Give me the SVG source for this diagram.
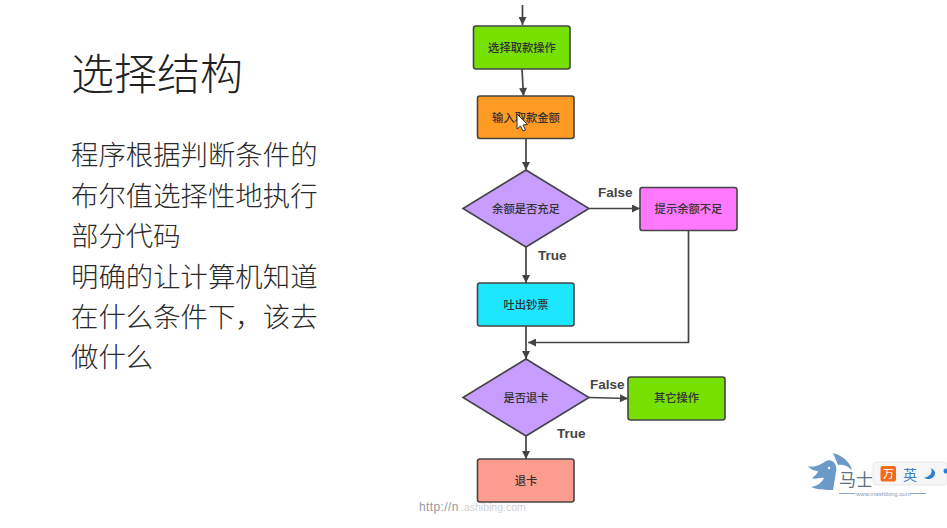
<svg xmlns="http://www.w3.org/2000/svg" width="947" height="528" viewBox="0 0 947 528">
<style>
.cjk{font-family:"Noto Sans CJK SC","Noto Sans",sans-serif}
.head{font-size:43px;font-weight:300;fill:#222}
.body{font-size:27.4px;font-weight:300;fill:#2a2a2a}
.box{stroke:#444;stroke-width:1.6}
.lab{font-size:11.300px;text-anchor:middle;fill:#333;font-weight:500}
.tf{font-family:"Liberation Sans",Arial,sans-serif;font-size:13.500px;font-weight:bold;fill:#444}
.con{fill:none;stroke:#444;stroke-width:1.7}
</style>
<defs>
<marker id="arr" viewBox="0 0 10 10" refX="10" refY="5" markerWidth="10" markerHeight="8" markerUnits="userSpaceOnUse" orient="auto"><path d="M0 0L10 5L0 10Z" fill="#444"/></marker>
</defs>
<rect width="947" height="528" fill="#fff"/>
<text class="cjk head" x="71" y="90">选择结构</text>
<g class="cjk body">
<text x="71" y="165">程序根据判断条件的</text>
<text x="71" y="206">布尔值选择性地执行</text>
<text x="71" y="246">部分代码</text>
<text x="71" y="287">明确的让计算机知道</text>
<text x="71" y="327">在什么条件下，该去</text>
<text x="71" y="367">做什么</text>
</g>
<g id="connectors">
<path class="con" marker-end="url(#arr)" d="M522.500 5V25"/>
<path class="con" marker-end="url(#arr)" d="M522 69L523.500 96"/>
<path class="con" marker-end="url(#arr)" d="M526 138V170"/>
<path class="con" marker-end="url(#arr)" d="M589 208.500H640"/>
<path class="con" marker-end="url(#arr)" d="M526 247V283"/>
<path class="con" marker-end="url(#arr)" d="M688.500 230V342.500H528"/>
<path class="con" marker-end="url(#arr)" d="M526 326V359"/>
<path class="con" marker-end="url(#arr)" d="M589 397.500L628 398.500"/>
<path class="con" marker-end="url(#arr)" d="M526 436V459"/>
</g>
<g id="n1"><rect class="box" x="473.500" y="26" width="96.500" height="43" rx="2.500" fill="#76e000"/><text class="cjk lab" x="522" y="51.500">选择取款操作</text></g>
<g id="n2"><rect class="box" x="477.500" y="96" width="96.500" height="42.500" rx="2.500" fill="#ff9a22"/><text class="cjk lab" x="526" y="121.500">输入取款金额</text></g>
<g id="n3"><path class="box" d="M526 170L589 208.500L526 247L463 208.500Z" fill="#c79dff"/><text class="cjk lab" x="526" y="213">余额是否充足</text></g>
<g id="n4"><rect class="box" x="640" y="187.500" width="97" height="43" rx="2.500" fill="#ff79ff"/><text class="cjk lab" x="688.500" y="212.500">提示余额不足</text></g>
<g id="n5"><rect class="box" x="477.500" y="283" width="96.500" height="43" rx="2.500" fill="#1ce7ff"/><text class="cjk lab" x="526" y="308.500">吐出钞票</text></g>
<g id="n6"><path class="box" d="M526 359L589 397.500L526 436L463 397.500Z" fill="#c79dff"/><text class="cjk lab" x="526" y="402">是否退卡</text></g>
<g id="n7"><rect class="box" x="628" y="377" width="97" height="43" rx="2.500" fill="#76e000"/><text class="cjk lab" x="676.500" y="402">其它操作</text></g>
<g id="n8"><rect class="box" x="477.500" y="459" width="96.500" height="43" rx="2.500" fill="#ff9c90"/><text class="cjk lab" x="526" y="485">退卡</text></g>
<text class="tf" x="598" y="197">False</text>
<text class="tf" x="538" y="260">True</text>
<text class="tf" x="590" y="389">False</text>
<text class="tf" x="557" y="438">True</text>
<path d="M517 114V129L520.500 126L523 131L525.500 130L523 125L527.500 124.500Z" fill="#fff" stroke="#333" stroke-width="1"/>
<text x="419" y="511" font-family="Liberation Sans,Arial,sans-serif" font-size="12" fill="#999" letter-spacing=".4">http://n</text>
<text x="461" y="511" font-family="Liberation Sans,Arial,sans-serif" font-size="10.500" fill="#d0d0d0">.ashibing.com</text>
<path d="M833 453C842 455 850 462 852 470C847 465 842 464 838 465Z" fill="#6b9ac9"/>
<path d="M826 461C832 458 838 464 836 472L833 490C826 490 818 490 811 487C818 486 822 482 824 478C820 477 815 480 812 478C815 476 818 473 818 471C815 471 811 470 808 466C814 468 820 465 826 461Z" fill="#6b9ac9"/>
<circle cx="829" cy="468" r="1.200" fill="#fff"/>
<text class="cjk" x="839" y="485.500" font-size="17" fill="#5c6f85">马士</text>
<path d="M839 493.500H855M910 493.500H926" stroke="#8fa9c8" stroke-width="1"/>
<text x="856" y="495.500" font-family="Liberation Sans,Arial,sans-serif" font-size="6" fill="#7f9cbc">www.mashibing.com</text>
<rect x="873" y="462" width="74" height="23" rx="4" fill="#f6f6f6" stroke="#e8e8e8"/>
<rect x="880.500" y="466" width="15.500" height="15.500" rx="2" fill="#f36a1c"/>
<text class="cjk" x="883" y="478" font-size="11" fill="#fff">万</text>
<text class="cjk" x="903" y="479.500" font-size="14" fill="#3b7fc4">英</text>
<path d="M931 468C933 473 930 477 924 477.500C929 481 935 478 935 473C935 471 933 469 931 468Z" fill="#2f7fd0"/>
<circle cx="946" cy="471" r="2.500" fill="#2f7fd0"/>
</svg>
